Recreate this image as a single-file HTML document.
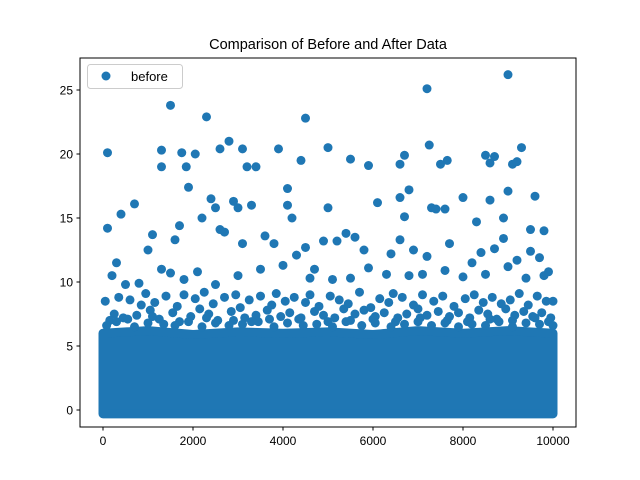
<!DOCTYPE html>
<html><head><meta charset="utf-8"><style>
body{margin:0;background:#fff}
svg{display:block;font-family:"Liberation Sans","DejaVu Sans",sans-serif}
</style></head><body>
<svg id="c" width="640" height="480">
<rect width="640" height="480" fill="#fff"/>
<text x="328" y="49" font-size="14.5" text-anchor="middle">Comparison of Before and After Data</text>
<g id="plot"></g>
<rect x="80" y="58" width="496" height="369" fill="none" stroke="#000" stroke-width="1"/>
<g id="ticks"></g>
<g>
<rect x="87.5" y="64.5" width="95" height="24" rx="3" fill="#fff" fill-opacity="0.8" stroke="#ccc"/>
<circle cx="106" cy="76" r="4.5" fill="#1f77b4"/>
<text x="131" y="81" font-size="13">before</text>
</g>
</svg>
<script>
const xTicks=[0,2000,4000,6000,8000,10000];
const yTicks=[0,5,10,15,20,25];
// dense band top per 1000-wide bin (values mostly solid below this)
const bandBins=[0,1000,2000,3000,4000,5000,6000,7000,8000,9000,10000];
const bandTop=[6.0,6.2,5.9,6.1,6.0,6.1,5.9,6.2,6.0,6.2,6.0];
const outX=[100,100,1500,2300,4500,7200,9000,1300,1300,1750,1850,2050,2600,2800,3100,3200,3400,3900,4400,5000,5500,5900,6600,6700,7250,7500,7650,8500,8600,8700,9100,9200,9300,9000,9600,1900,4100,6800,8000,700,400,2400,2500,2900,3000,3300,4100,4200,5000,6100,6600,6700,7300,7400,7600,8300,8600,8900,9500,9800,1000,1100,1300,1600,1700,2200,2600,2700,3100,3600,3800,4300,4500,4700,4900,5200,5400,5600,5800,6400,6600,6900,7200,7700,8200,8400,8700,8900,9200,9500,9700,9900,200,300,500,800,1500,1800,2100,2500,3000,3500,4000,4600,5100,5500,5900,6300,6800,7100,7600,8000,8500,9000,9400,9800,10000];
const outY=[20.1,14.2,23.8,22.9,22.8,25.1,26.2,20.3,19,20.1,19,20,20.4,21,20.4,19,19,20.4,19.5,20.5,19.6,19.1,19.2,19.9,20.7,19.2,19.5,19.9,19.3,19.8,19.2,19.4,20.5,17.1,16.7,17.4,17.3,17.2,16.6,16.1,15.3,16.5,15.8,16.3,15.8,16,16,15,15.8,16.2,16.6,15.1,15.8,15.7,15.7,14.7,16.4,15,14.1,14,12.5,13.7,11,13.3,14.4,15,14.1,13.9,13,13.6,13,12.1,12.7,11,13.2,13.2,13.8,13.5,12.5,12.2,13.3,12.5,12,13,11.5,12.3,12.6,13.4,11.7,12.4,11.9,10.8,10.5,11.5,9.8,9.9,10.7,10.2,10.8,9.8,10.5,11,11.3,10.3,10.2,10.3,11.1,10.6,10.5,10.6,10.9,10.4,10.6,11.2,10.3,10.5,8.5];
const midX=[50,250,350,450,600,750,850,950,1050,1150,1250,1400,1550,1650,1800,1950,2050,2150,2250,2350,2450,2550,2700,2850,2950,3050,3150,3250,3400,3500,3650,3750,3850,3950,4050,4150,4250,4350,4500,4600,4700,4800,4900,5050,5150,5250,5350,5450,5600,5700,5800,5950,6050,6150,6250,6350,6450,6550,6650,6750,6900,7000,7100,7200,7350,7450,7550,7700,7800,7900,8050,8150,8250,8350,8450,8550,8650,8750,8850,8950,9050,9150,9250,9350,9450,9550,9650,9750,9850,9950,150,550,1100,1700,2300,2900,3300,3700,4400,5000,5500,6000,6500,7050,7650,8100,8600,9100,9600,9900,80,300,700,1000,1350,1600,1900,2200,2500,2800,3100,3450,3800,4100,4450,4750,5100,5400,5750,6050,6400,6700,7000,7300,7600,7900,8200,8500,8800,9100,9400,9700,10000];
const midY=[8.5,7.5,8.8,7.2,8.6,7.4,8.2,9.1,7.8,8.4,7.1,8.9,7.6,8.1,9.0,7.3,8.7,7.9,9.2,7.5,8.3,7.0,8.8,7.7,9.0,8.0,7.2,8.6,7.4,8.9,7.8,8.2,9.1,7.3,8.5,7.6,8.8,7.1,8.4,9.0,7.7,8.1,7.4,8.9,7.2,8.6,7.9,8.3,7.5,9.2,7.8,8.0,7.3,8.7,7.6,8.4,9.1,7.2,8.8,7.5,8.2,7.9,9.0,7.4,8.5,7.7,8.9,7.3,8.1,7.6,8.7,7.2,9.0,7.8,8.4,7.5,8.8,7.1,8.3,7.9,8.6,7.4,9.1,7.7,8.2,7.3,8.9,7.6,8.5,7.2,7.0,7.1,7.3,6.9,7.2,7.0,6.9,7.1,7.2,6.9,7.0,7.1,6.9,7.2,7.0,6.9,7.1,7.0,7.2,6.9,6.6,6.9,6.5,6.8,6.7,6.6,6.9,6.5,6.8,6.6,6.7,6.9,6.5,6.8,6.6,6.7,6.5,6.9,6.6,6.8,6.5,6.7,6.9,6.6,6.8,6.5,6.7,6.6,6.9,6.5,6.8,6.7,6.6];
const NS='http://www.w3.org/2000/svg';
const xs=v=>103+v*0.045, ys=v=>410-v*12.8;
const plot=document.getElementById('plot'), tk=document.getElementById('ticks');
function mk(tag,a,parent){const e=document.createElementNS(NS,tag);for(const k in a)e.setAttribute(k,a[k]);parent.appendChild(e);return e;}
let d='M'+xs(bandBins[0])+','+ys(-0.3);
for(let i=0;i<bandBins.length;i++)d+=' L'+xs(bandBins[i])+','+ys(bandTop[i]);
d+=' L'+xs(bandBins[bandBins.length-1])+','+ys(-0.3)+'Z';
const band=mk('path',{d:d,fill:'#1f77b4',stroke:'#1f77b4','stroke-width':9,'stroke-linejoin':'round'},plot);


for(let i=0;i<midX.length;i++){const c=mk('circle',{cx:xs(midX[i]),cy:ys(midY[i]),r:4.5,fill:'#1f77b4'},plot);

}
for(let i=0;i<outX.length;i++){const c=mk('circle',{cx:xs(outX[i]),cy:ys(outY[i]),r:4.5,fill:'#1f77b4'},plot);

}
xTicks.forEach(v=>{const x=xs(v);
const l=mk('line',{x1:x,x2:x,y1:427,y2:430.5,stroke:'#000'},tk);


const t=mk('text',{x:x,y:445,'font-size':12,'text-anchor':'middle'},tk);t.textContent=v;

});
yTicks.forEach(v=>{const y=ys(v);
const l=mk('line',{x1:76.5,x2:80,y1:y,y2:y,stroke:'#000'},tk);


const t=mk('text',{x:73,y:y+4.5,'font-size':12,'text-anchor':'end'},tk);t.textContent=v;

});
</script>
</body></html>
